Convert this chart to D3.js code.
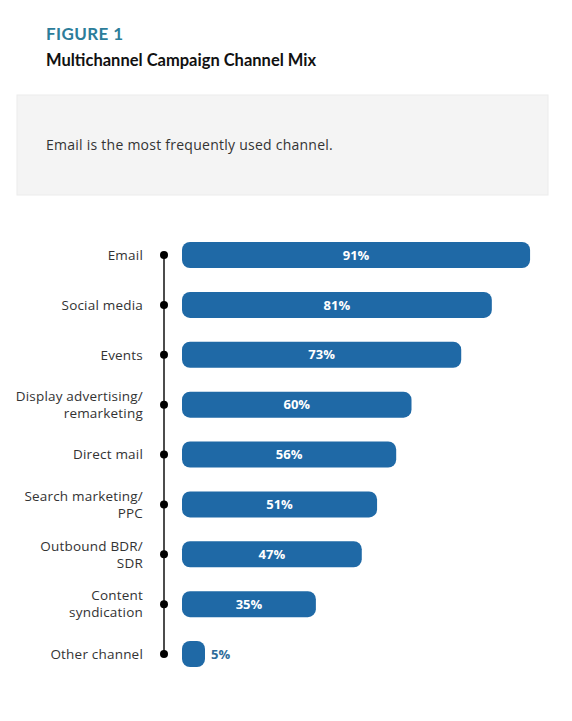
<!DOCTYPE html>
<html><head><meta charset="utf-8">
<script src="https://cdn.jsdelivr.net/npm/d3@7"></script>
<style>
html,body{margin:0;padding:0;background:#fff;}
svg{display:block;font-family:"Open Sans","Noto Sans",sans-serif;}
</style></head>
<body><svg id="c" width="572" height="721"></svg>
<script>
const categories = [
  ["Email"],
  ["Social media"],
  ["Events"],
  ["Display advertising/","remarketing"],
  ["Direct mail"],
  ["Search marketing/","PPC"],
  ["Outbound BDR/","SDR"],
  ["Content","syndication"],
  ["Other channel"]
];
const values = [91, 81, 73, 60, 56, 51, 47, 35, 5];
const figureLabel = "FIGURE 1";
const title = "Multichannel Campaign Channel Mix";
const note = "Email is the most frequently used channel.";

const svg = d3.select("#c");
const blue = "#1f69a6";

svg.append("text").attr("x",46).attr("y",40).text(figureLabel)
  .attr("font-family","Lato, 'Open Sans', sans-serif").attr("font-weight",700)
  .attr("font-size",17).attr("fill","#2c7d9a").attr("letter-spacing",0.4);
svg.append("text").attr("x",46).attr("y",66).text(title)
  .attr("font-family","Lato, 'Open Sans', sans-serif").attr("font-weight",700)
  .attr("font-size",16.5).attr("fill","#111");

svg.append("rect").attr("x",17).attr("y",95).attr("width",531).attr("height",100)
  .attr("fill","#f4f4f4").attr("stroke","#ececec");
svg.append("text").attr("x",46).attr("y",150).text(note)
  .attr("font-size",14).attr("letter-spacing",0.25).attr("fill","#333");

const idx = d3.range(values.length);
const y = d3.scalePoint().domain(idx).range([255, 654]);
const x = d3.scaleLinear().domain([0,100]).range([182, 182+382.5]);

const axisX = 164;
svg.append("line").attr("x1",axisX).attr("x2",axisX)
  .attr("y1",y(0)).attr("y2",y(idx.length-1))
  .attr("stroke","#111").attr("stroke-width",1.5);

const g = svg.append("g").selectAll("g").data(idx).join("g");
g.append("circle").attr("cx",axisX).attr("cy",d=>y(d)).attr("r",4).attr("fill","#000");

const bh = 26;
g.append("rect")
  .attr("x",x(0)).attr("y",d=>y(d)-bh/2)
  .attr("width",d=>Math.max(x(values[d])-x(0), 23))
  .attr("height",bh).attr("rx",8).attr("ry",8).attr("fill",blue);

g.append("text")
  .attr("x",d=> values[d] < 10 ? x(0)+Math.max(x(values[d])-x(0),23)+6 : (x(0)+x(values[d]))/2)
  .attr("y",d=>y(d)).attr("dy","0.36em")
  .attr("text-anchor",d=> values[d] < 10 ? "start":"middle")
  .attr("font-size",13).attr("font-weight",700)
  .attr("fill",d=> values[d] < 10 ? "#2f6c9a" : "#fff")
  .text(d=>values[d]+"%");

g.append("text")
  .attr("x",143).attr("y",d=>y(d))
  .attr("text-anchor","end").attr("font-size",13.5).attr("letter-spacing",0.2).attr("fill","#333")
  .each(function(d){
    const lines = categories[d];
    const t = d3.select(this);
    const lh = 17;
    lines.forEach((l,i)=>{
      t.append("tspan").attr("x",143)
       .attr("y", y(d) + (i - (lines.length-1)/2)*lh)
       .attr("dy","0.36em").text(l);
    });
  });
</script></body></html>
